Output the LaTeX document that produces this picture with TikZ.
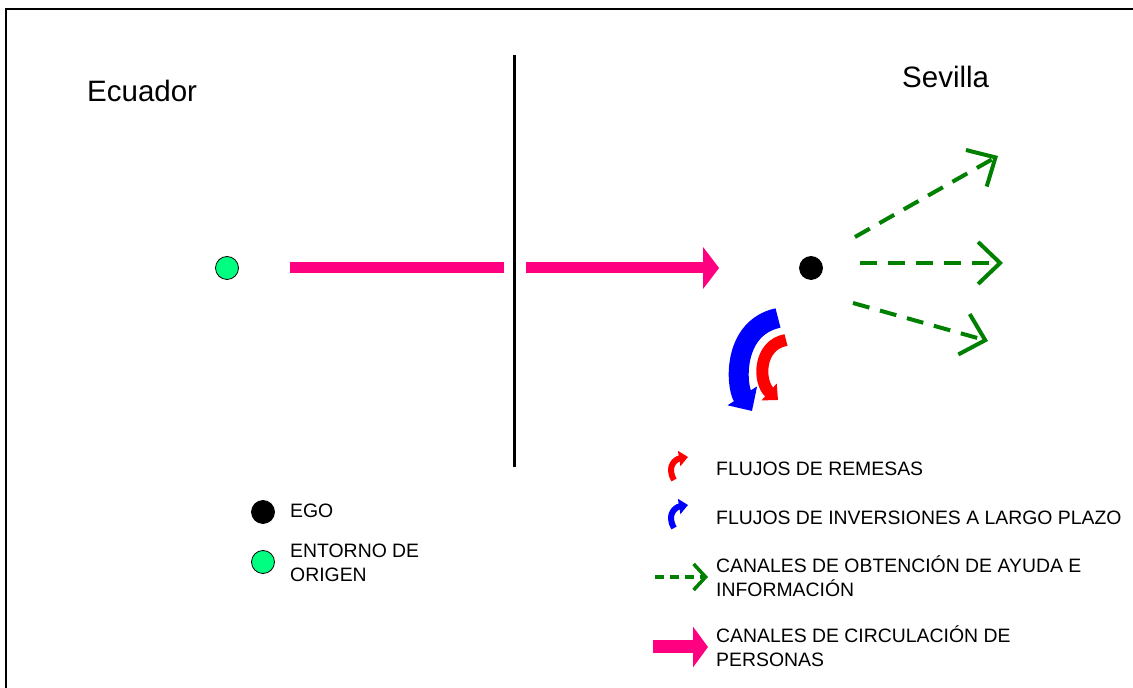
\documentclass[tikz,border=0pt]{standalone}
\usepackage{fontspec}
\setmainfont{Liberation Sans}
\usetikzlibrary{arrows.meta}
\definecolor{rosa}{RGB}{255,0,128}
\definecolor{verde}{RGB}{0,128,0}
\definecolor{verdeclaro}{RGB}{0,255,128}

\begin{document}
\begin{tikzpicture}[x=1pt, y=1pt,
  punto/.style={circle, draw=black, line width=0.8pt, inner sep=0pt, minimum size=23pt},
  titulo/.style={anchor=base west, inner sep=0pt, font=\fontsize{29.5}{34}\selectfont},
  leyenda/.style={anchor=base west, inner sep=0pt, align=left, font=\fontsize{19.4}{24.5}\selectfont},
  personas/.style={draw=rosa, line width=11pt, -{Triangle[length=16pt, width=41pt, fill=rosa]}},
  canal/.style={draw=verde, line width=4pt, dash pattern=on 17pt off 11pt, -{Straight Barb[length=22pt, width=42pt, line width=4pt]}}
]
\useasboundingbox (0,0) rectangle (1133,688);
\draw[line width=1.5pt] (6,0) -- (6,679) -- (1133,679);

\node[titulo] (ecuador) at (87,586) {Ecuador};
\node[titulo] (sevilla) at (902,600) {Sevilla};
\draw[line width=3pt] (514,633) -- (514,221);

\node[punto, fill=verdeclaro] (ecu) at (227,420) {};
\node[punto, fill=black] (ego) at (811,420) {};

% circulacion de personas
\coordinate (f1) at (504,420);
\coordinate (f2) at (526,420);
\draw[draw=rosa, line width=11pt, shorten <=51pt] (ecu) -- (f1);
\draw[personas, shorten >=80pt] (f2) -- (ego);

% canales de ayuda
\coordinate (a1) at (855,451);
\coordinate (b1) at (998,532);
\coordinate (a2) at (860,425);
\coordinate (b2) at (1003,425);
\coordinate (a3) at (853,385);
\coordinate (b3) at (988,347);
\draw[canal] (a1) -- (b1);
\draw[canal] (a2) -- (b2);
\draw[canal] (a3) -- (b3);

% flujos
\draw[blue, line width=20pt, -{Triangle[length=18pt, width=34pt]}] (778,370) .. controls (732,360) and (736,302) .. (752,277);
\draw[red, line width=12pt, -{Triangle[length=12pt, width=22pt]}] (786,348) .. controls (758,343) and (758,306) .. (778,288);

% leyenda
\node[punto, fill=black] (l1) at (263,176) {};
\node[leyenda] (t1) at (290,170) {EGO};
\node[punto, fill=verdeclaro] (l2) at (263,126) {};
\node[leyenda] (t2) at (290,106) {ENTORNO DE\\ORIGEN};

\draw[red, line width=6pt, -{Triangle[length=9pt, width=15pt]}] (674,208) .. controls (666,222) and (676,229) .. (688,231);
\node[leyenda] (t3) at (716,212) {FLUJOS DE REMESAS};
\draw[blue, line width=6pt, -{Triangle[length=9pt, width=15pt]}] (674,160) .. controls (666,174) and (676,181) .. (688,183);
\node[leyenda] (t4) at (716,163) {FLUJOS DE INVERSIONES A LARGO PLAZO};

\coordinate (g1) at (655,111);
\coordinate (g2) at (708,111);
\draw[canal, dash pattern=on 9pt off 6pt, line width=3.5pt, -{Straight Barb[length=12pt, width=26pt, line width=3.5pt]}] (g1) -- (g2);
\node[leyenda] (t5) at (716,91) {CANALES DE OBTENCIÓN DE AYUDA E\\INFORMACIÓN};

\coordinate (p1) at (653,41);
\coordinate (p2) at (708,41);
\draw[draw=rosa, line width=13pt, -{Triangle[length=15pt, width=40pt, fill=rosa]}] (p1) -- (p2);
\node[leyenda] (t6) at (716,21) {CANALES DE CIRCULACIÓN DE\\PERSONAS};
\end{tikzpicture}
\end{document}
